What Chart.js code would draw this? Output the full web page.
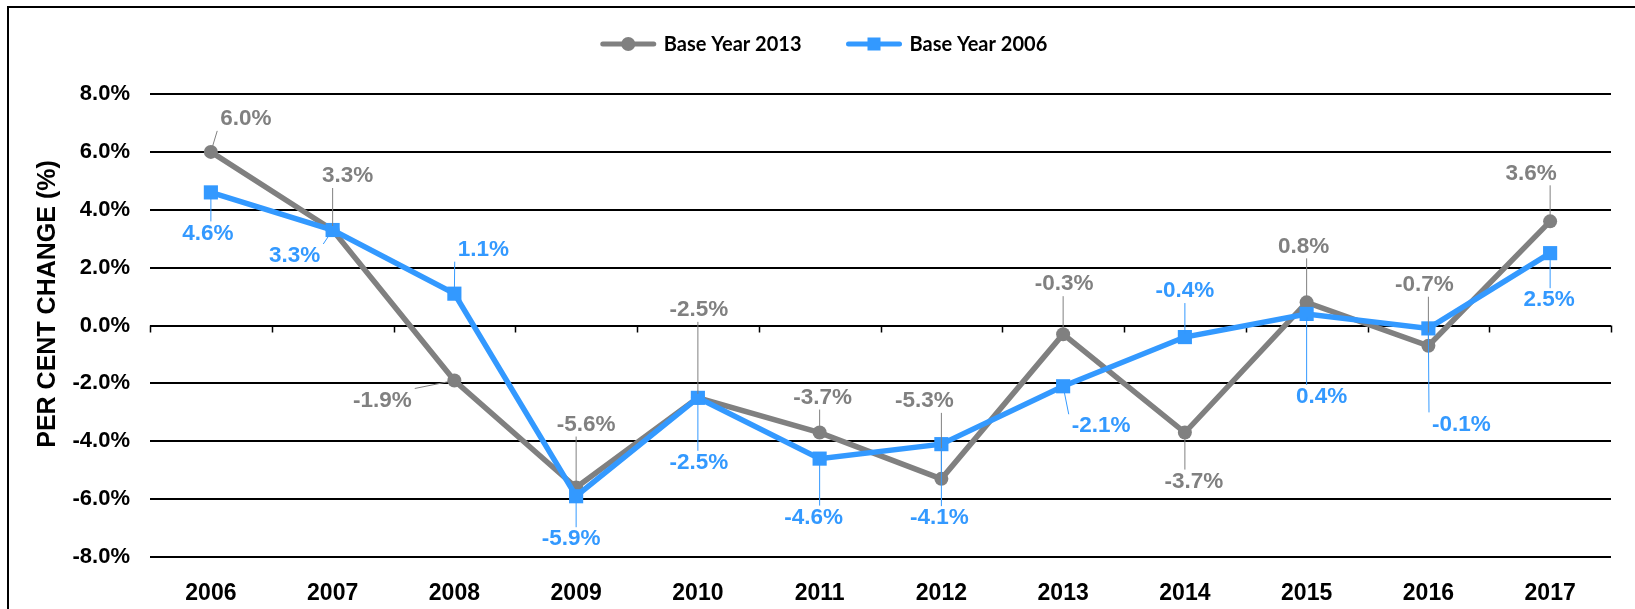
<!DOCTYPE html>
<html>
<head>
<meta charset="utf-8">
<script src="https://cdn.jsdelivr.net/npm/chart.js@4.4.1/dist/chart.umd.min.js"></script>
<style>
    html, body { margin: 0; padding: 0; background: #fff; overflow: hidden; }
    #wrap { position: relative; width: 1635px; height: 609px; }
    #frame { position: absolute; left: 7px; top: 6px; width: 1700px; height: 700px; border: 2px solid #000; box-sizing: border-box; }
    canvas { position: absolute; left: 0; top: 0; }
</style>
</head>
<body>
<div id="wrap">
    <div id="frame"></div>
    <canvas id="chart" width="1635" height="609"></canvas>
</div>
<script>
// ===== 数据 =====
const years = ['2006', '2007', '2008', '2009', '2010', '2011', '2012', '2013', '2014', '2015', '2016', '2017'];
const base2013 = [6.0, 3.3, -1.9, -5.6, -2.5, -3.7, -5.3, -0.3, -3.7, 0.8, -0.7, 3.6];
const base2006 = [4.6, 3.3, 1.1, -5.9, -2.5, -4.6, -4.1, -2.1, -0.4, 0.4, -0.1, 2.5];
const seriesNames = ['Base Year 2013', 'Base Year 2006'];
const yMin = -8, yMax = 8, yStep = 2;
const yTitle = 'PER CENT CHANGE (%)';

// 数据标签相对点的偏移（像素）
const offs2013 = [[35, -33], [15, -54], [-72, 20], [10, -63], [1, -88], [3, -35], [-17, -78], [1, -50], [9, 49], [-3, -56], [-4, -61], [-19, -48]];
const offs2006 = [[-3, 41], [-38, 26], [29, -44], [-5, 43], [1, 65], [-6, 59], [-2, 74], [38, 40], [0, -46], [15, 83], [33, 96], [-1, 47]];

const GREY = '#808080';
const BLUE = '#3399ff';
const FONT = '"Liberation Sans", Arial, sans-serif';

// 坐标轴在 0 处的刻度线
const zeroTicks = {
    id: 'zeroTicks',
    beforeDatasetsDraw(chart) {
        const { ctx, chartArea } = chart;
        const y0 = chart.scales.y.getPixelForValue(0);
        const n = years.length;
        const w = (chartArea.right - chartArea.left) / n;
        ctx.save();
        ctx.strokeStyle = '#000';
        ctx.lineWidth = 1.5;
        ctx.beginPath();
        for (let i = 0; i <= n; i++) {
            const x = Math.round(chartArea.left + i * w) + 0.5;
            ctx.moveTo(x, y0);
            ctx.lineTo(x, y0 + 7);
        }
        ctx.stroke();
        ctx.restore();
    }
};

// 数据标签 + 引导线
const pointLabels = {
    id: 'pointLabels',
    afterDatasetsDraw(chart) {
        const { ctx } = chart;
        const allOffs = [offs2013, offs2006];
        ctx.save();
        ctx.font = 'bold 22.5px ' + FONT;
        ctx.textAlign = 'center';
        ctx.textBaseline = 'middle';
        chart.data.datasets.forEach((ds, di) => {
            const meta = chart.getDatasetMeta(di);
            meta.data.forEach((pt, i) => {
                const text = ds.data[i].toFixed(1) + '%';
                const [dx, dy] = allOffs[di][i];
                const lx = pt.x + dx, ly = pt.y + dy;
                const tw = ctx.measureText(text).width;
                const bx1 = lx - tw / 2 - 3, bx2 = lx + tw / 2 + 3;
                const by1 = ly - 12, by2 = ly + 12;
                const nx = Math.min(Math.max(pt.x, bx1), bx2);
                const ny = Math.min(Math.max(pt.y, by1), by2);
                const dist = Math.hypot(nx - pt.x, ny - pt.y);
                if (dist > 10) {
                    const ux = (nx - pt.x) / dist, uy = (ny - pt.y) / dist;
                    ctx.strokeStyle = ds.borderColor;
                    ctx.lineWidth = 1;
                    ctx.beginPath();
                    ctx.moveTo(pt.x + ux * 4, pt.y + uy * 4);
                    ctx.lineTo(nx, ny);
                    ctx.stroke();
                }
                ctx.fillStyle = ds.borderColor;
                ctx.fillText(text, lx, ly);
            });
        });
        ctx.restore();
    }
};

// Y 轴标题
const axisTitle = {
    id: 'axisTitle',
    afterDraw(chart) {
        const { ctx } = chart;
        ctx.save();
        ctx.translate(48, 304);
        ctx.rotate(-Math.PI / 2);
        ctx.font = 'bold 25px ' + FONT;
        ctx.fillStyle = '#000';
        ctx.textAlign = 'center';
        ctx.textBaseline = 'middle';
        ctx.fillText(yTitle, 0, 0);
        ctx.restore();
    }
};

// 图例：线段 + 标记 + 文字
const lineLegend = {
    id: 'lineLegend',
    afterDraw(chart) {
        const { ctx } = chart;
        const lineLen = 55, gap = 8, itemGap = 45, cy = 44;
        ctx.save();
        ctx.font = 'bold 20px Lato, ' + FONT;
        const widths = chart.data.datasets.map(ds => lineLen + gap + ctx.measureText(ds.label).width);
        const total = widths.reduce((a, b) => a + b, 0) + itemGap * (widths.length - 1);
        let x = 824 - total / 2;
        chart.data.datasets.forEach((ds, i) => {
            ctx.strokeStyle = ds.borderColor;
            ctx.lineWidth = 5;
            ctx.lineCap = 'round';
            ctx.beginPath();
            ctx.moveTo(x + 2, cy);
            ctx.lineTo(x + lineLen - 2, cy);
            ctx.stroke();
            ctx.fillStyle = ds.borderColor;
            const mx = x + lineLen / 2;
            if (ds.pointStyle === 'rect') {
                ctx.fillRect(mx - 6.5, cy - 6.5, 13, 13);
            } else {
                ctx.beginPath();
                ctx.arc(mx, cy, 7, 0, Math.PI * 2);
                ctx.fill();
            }
            ctx.fillStyle = '#000';
            ctx.textAlign = 'left';
            ctx.textBaseline = 'middle';
            ctx.fillText(ds.label, x + lineLen + gap, cy + 1);
            x += widths[i] + itemGap;
        });
        ctx.restore();
    }
};

const ctx = document.getElementById('chart').getContext('2d');
new Chart(ctx, {
    type: 'line',
    data: {
        labels: years,
        datasets: [
            {
                label: seriesNames[0],
                data: base2013,
                borderColor: GREY,
                backgroundColor: GREY,
                borderWidth: 5.5,
                pointStyle: 'circle',
                pointRadius: 7,
                pointBorderWidth: 0,
                tension: 0,
                order: 1
            },
            {
                label: seriesNames[1],
                data: base2006,
                borderColor: BLUE,
                backgroundColor: BLUE,
                borderWidth: 5.5,
                pointStyle: 'rect',
                pointRadius: 10,
                pointBorderWidth: 0,
                tension: 0,
                order: 0
            }
        ]
    },
    options: {
        responsive: false,
        devicePixelRatio: 1,
        animation: false,
        layout: { padding: { top: 94, right: 24, left: 0, bottom: 0 } },
        plugins: {
            legend: { display: false },
            tooltip: { enabled: false }
        },
        scales: {
            x: {
                offset: true,
                grid: { display: false },
                border: { display: false },
                ticks: {
                    color: '#000',
                    font: { family: FONT, size: 23, weight: 'bold' },
                    padding: 15,
                    maxRotation: 0
                },
                afterFit(scale) { scale.height = 52; }
            },
            y: {
                min: yMin,
                max: yMax,
                grid: { color: '#000', lineWidth: 2, drawTicks: false },
                border: { display: false },
                ticks: {
                    stepSize: yStep,
                    color: '#000',
                    padding: 20,
                    font: { family: FONT, size: 22, weight: 'bold' },
                    callback: v => v.toFixed(1) + '%'
                },
                afterFit(scale) { scale.width = 150; }
            }
        }
    },
    plugins: [zeroTicks, pointLabels, axisTitle, lineLegend]
});
</script>
</body>
</html>
